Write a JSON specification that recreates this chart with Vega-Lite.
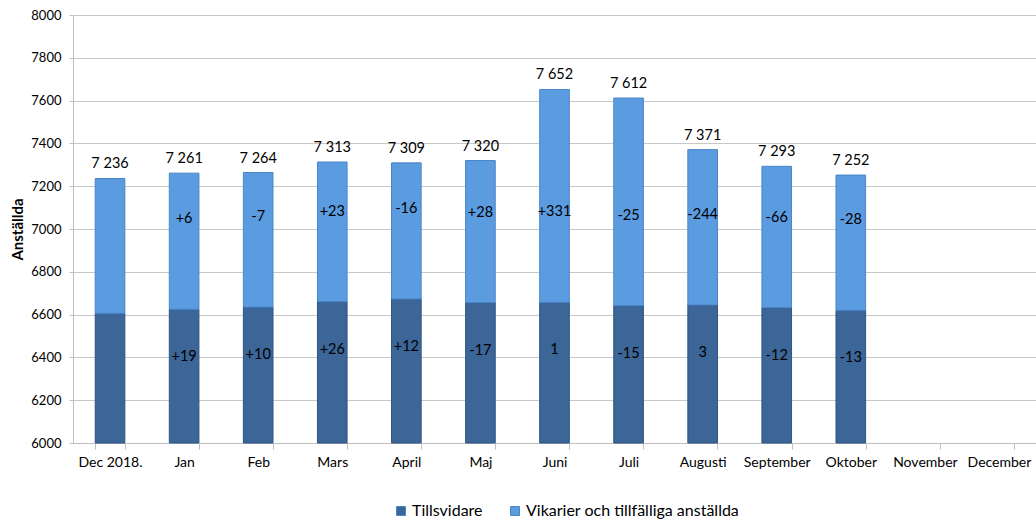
{
  "$schema": "https://vega.github.io/schema/vega-lite/v6.json",
  "width": 963,
  "height": 428,
  "autosize": {"type": "none"},
  "padding": {"left": 73, "top": 15, "right": 0, "bottom": 78},
  "background": "white",
  "config": {
    "view": {"stroke": null},
    "font": "Lato",
    "locale": {"number": {"decimal": ",", "thousands": " ", "grouping": [3], "currency": ["", " kr"]}}
  },
  "data": {
    "values": [
      {"month": "Dec 2018.", "tills": 6606, "total": 7236, "tc": "", "vc": ""},
      {"month": "Jan", "tills": 6625, "total": 7261, "tc": "+19", "vc": "+6"},
      {"month": "Feb", "tills": 6635, "total": 7264, "tc": "+10", "vc": "-7"},
      {"month": "Mars", "tills": 6661, "total": 7313, "tc": "+26", "vc": "+23"},
      {"month": "April", "tills": 6673, "total": 7309, "tc": "+12", "vc": "-16"},
      {"month": "Maj", "tills": 6656, "total": 7320, "tc": "-17", "vc": "+28"},
      {"month": "Juni", "tills": 6657, "total": 7652, "tc": "1", "vc": "+331"},
      {"month": "Juli", "tills": 6642, "total": 7612, "tc": "-15", "vc": "-25"},
      {"month": "Augusti", "tills": 6645, "total": 7371, "tc": "3", "vc": "-244"},
      {"month": "September", "tills": 6633, "total": 7293, "tc": "-12", "vc": "-66"},
      {"month": "Oktober", "tills": 6620, "total": 7252, "tc": "-13", "vc": "-28"}
    ]
  },
  "encoding": {
    "x": {
      "field": "month",
      "type": "nominal",
      "sort": null,
      "scale": {
        "domain": ["Dec 2018.", "Jan", "Feb", "Mars", "April", "Maj", "Juni", "Juli", "Augusti", "September", "Oktober", "November", "December"],
        "paddingInner": 0.6,
        "paddingOuter": 0.3
      },
      "axis": {
        "title": null,
        "labelAngle": 0,
        "labelFontSize": 14,
        "labelColor": "#000000",
        "labelPadding": 6,
        "tickBand": "extent",
        "tickSize": 6,
        "tickColor": "#bfbfbf",
        "domainColor": "#bfbfbf",
        "grid": false
      }
    }
  },
  "layer": [
    {
      "mark": {"type": "bar", "stroke": "#2f5585", "strokeWidth": 1},
      "encoding": {
        "y": {
          "field": "tills",
          "type": "quantitative",
          "scale": {"domain": [6000, 8000], "nice": false, "zero": false},
          "axis": {
            "title": "Anställda",
            "titleFontSize": 15,
            "titleFontWeight": "bold",
            "titleColor": "#000000",
            "titlePadding": 5,
            "format": "d",
            "values": [6000, 6200, 6400, 6600, 6800, 7000, 7200, 7400, 7600, 7800, 8000],
            "labelFontSize": 13,
            "labelColor": "#000000",
            "labelPadding": 8,
            "tickSize": 4,
            "tickColor": "#bfbfbf",
            "domainColor": "#bfbfbf",
            "gridColor": "#c8c8c8",
            "gridWidth": 1
          }
        },
        "y2": {"datum": 6000},
        "color": {
          "datum": "Tillsvidare",
          "scale": {
            "domain": ["Tillsvidare", "Vikarier och tillfälliga anställda"],
            "range": ["#3c6598", "#5b9be0"]
          },
          "legend": {
            "title": null,
            "orient": "none",
            "direction": "horizontal",
            "legendX": 320,
            "legendY": 488,
            "symbolType": "square",
            "symbolSize": 81,
            "symbolStrokeColor": "#2f5585",
            "symbolStrokeWidth": 1,
            "labelFontSize": 16,
            "labelColor": "#000000",
            "labelOffset": 3,
            "labelLimit": 400,
            "columnPadding": 24
          }
        }
      }
    },
    {
      "mark": {"type": "bar", "stroke": "#4a86c8", "strokeWidth": 1},
      "encoding": {
        "y": {"field": "total", "type": "quantitative"},
        "y2": {"field": "tills"},
        "color": {"datum": "Vikarier och tillfälliga anställda"}
      }
    },
    {
      "mark": {"type": "text", "fontSize": 14.5, "dy": -14, "color": "#000000", "baseline": "middle"},
      "encoding": {
        "y": {"field": "total", "type": "quantitative"},
        "text": {"field": "total", "type": "quantitative", "format": ","}
      }
    },
    {
      "mark": {"type": "text", "fontSize": 14.5, "dy": 48, "color": "#000000", "baseline": "middle"},
      "encoding": {
        "y": {"field": "tills", "type": "quantitative"},
        "text": {"field": "tc"}
      }
    },
    {
      "mark": {"type": "text", "fontSize": 14.5, "dy": -90, "color": "#000000", "baseline": "middle"},
      "encoding": {
        "y": {"field": "tills", "type": "quantitative"},
        "text": {"field": "vc"}
      }
    }
  ]
}
